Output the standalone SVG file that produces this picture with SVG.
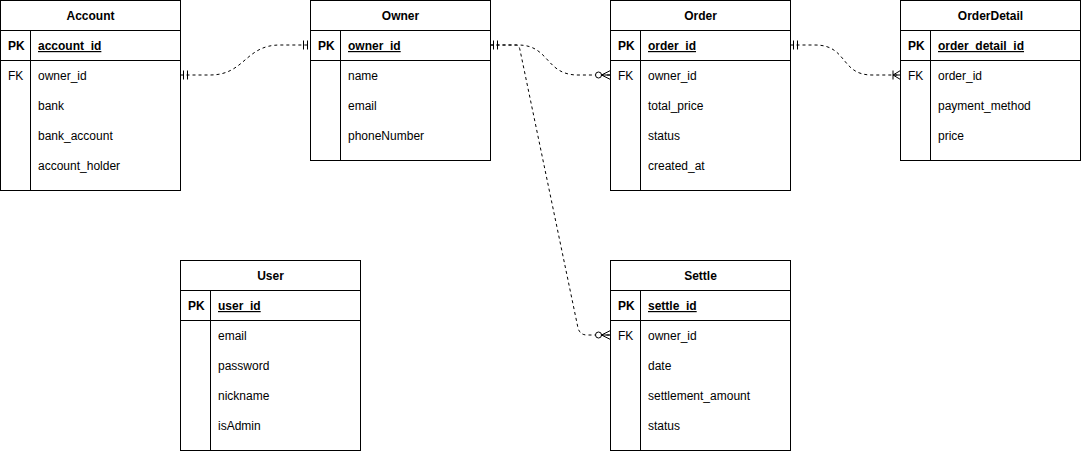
<svg xmlns="http://www.w3.org/2000/svg" width="1081" height="451" viewBox="0 0 1081 451">
<style>
  .box { fill: #ffffff; stroke: #000000; stroke-width: 1; }
  .ln { stroke: #000000; stroke-width: 1; fill: none; }
  text { font-family: "Liberation Sans", Arial, Helvetica, sans-serif; font-size: 12px; fill: #000000; }
  .title { font-weight: bold; text-anchor: middle; }
  .key { font-weight: bold; }
  .pk { font-weight: bold; text-decoration: underline; }
  .edge { stroke: #000000; stroke-width: 1; fill: none; stroke-dasharray: 3 3; }
  .mk { stroke: #000000; stroke-width: 1; fill: none; }
</style>
<defs>
  <marker id="mandOne" viewBox="-16 -6 17 12" refX="0" refY="0" markerWidth="17" markerHeight="12" markerUnits="userSpaceOnUse" orient="auto-start-reverse">
    <path class="mk" d="M-7,-4.5 L-7,4.5 M-3,-4.5 L-3,4.5"/>
  </marker>
  <marker id="zeroMany" viewBox="-16 -6 17 12" refX="0" refY="0" markerWidth="17" markerHeight="12" markerUnits="userSpaceOnUse" orient="auto-start-reverse">
    <circle cx="-12" cy="0" r="3" fill="#ffffff" stroke="#000000" stroke-width="1"/>
    <path class="mk" d="M0,-4.5 L-9,0 L0,4.5 M-9,0 L0,0"/>
  </marker>
  <marker id="oneMany" viewBox="-16 -6 17 12" refX="0" refY="0" markerWidth="17" markerHeight="12" markerUnits="userSpaceOnUse" orient="auto-start-reverse">
    <path class="mk" d="M-7.5,-4.5 L-7.5,4.5 M0,-4.5 L-7.5,0 L0,4.5 M-7.5,0 L0,0"/>
  </marker>
</defs>

<g id="connectors">
  <path class="edge" d="M180.5,75 L210,75 C245,75 245,45 280,45 L310.5,45" marker-start="url(#mandOne)" marker-end="url(#mandOne)"/>
  <path class="edge" d="M490.5,45 L518,45 C550,45 545,75 578,75 L610.5,75" marker-start="url(#mandOne)" marker-end="url(#zeroMany)"/>
  <path class="edge" d="M790.5,45 L815,45 C848,45 840,75 872,75 L900.5,75" marker-start="url(#mandOne)" marker-end="url(#oneMany)"/>
  <path class="edge" d="M490.5,45 L516,45 Q519,45 520,50 L578,328 Q580,335 587,335 L610.5,335" marker-end="url(#zeroMany)"/>
</g>

<g id="Account">
  <rect class="box" x="0.5" y="0.5" width="180" height="190"/>
  <path class="ln" d="M0.5,30.5 H180.5 M0.5,60.5 H180.5 M30.5,30.5 V190.5"/>
  <text class="title" x="90.5" y="20">Account</text>
  <text class="key" x="8" y="50">PK</text>
  <text class="pk" x="38" y="50">account_id</text>
  <text x="8" y="80">FK</text>
  <text x="38" y="80">owner_id</text>
  <text x="38" y="110">bank</text>
  <text x="38" y="140">bank_account</text>
  <text x="38" y="170">account_holder</text>
</g>

<g id="Owner">
  <rect class="box" x="310.5" y="0.5" width="180" height="160"/>
  <path class="ln" d="M310.5,30.5 H490.5 M310.5,60.5 H490.5 M340.5,30.5 V160.5"/>
  <text class="title" x="400.5" y="20">Owner</text>
  <text class="key" x="318" y="50">PK</text>
  <text class="pk" x="348" y="50">owner_id</text>
  <text x="348" y="80">name</text>
  <text x="348" y="110">email</text>
  <text x="348" y="140">phoneNumber</text>
</g>

<g id="Order">
  <rect class="box" x="610.5" y="0.5" width="180" height="190"/>
  <path class="ln" d="M610.5,30.5 H790.5 M610.5,60.5 H790.5 M640.5,30.5 V190.5"/>
  <text class="title" x="700.5" y="20">Order</text>
  <text class="key" x="618" y="50">PK</text>
  <text class="pk" x="648" y="50">order_id</text>
  <text x="618" y="80">FK</text>
  <text x="648" y="80">owner_id</text>
  <text x="648" y="110">total_price</text>
  <text x="648" y="140">status</text>
  <text x="648" y="170">created_at</text>
</g>

<g id="OrderDetail">
  <rect class="box" x="900.5" y="0.5" width="180" height="160"/>
  <path class="ln" d="M900.5,30.5 H1080.5 M900.5,60.5 H1080.5 M930.5,30.5 V160.5"/>
  <text class="title" x="990.5" y="20">OrderDetail</text>
  <text class="key" x="908" y="50">PK</text>
  <text class="pk" x="938" y="50">order_detail_id</text>
  <text x="908" y="80">FK</text>
  <text x="938" y="80">order_id</text>
  <text x="938" y="110">payment_method</text>
  <text x="938" y="140">price</text>
</g>

<g id="User">
  <rect class="box" x="180.5" y="260.5" width="180" height="190"/>
  <path class="ln" d="M180.5,290.5 H360.5 M180.5,320.5 H360.5 M210.5,290.5 V450.5"/>
  <text class="title" x="270.5" y="280">User</text>
  <text class="key" x="188" y="310">PK</text>
  <text class="pk" x="218" y="310">user_id</text>
  <text x="218" y="340">email</text>
  <text x="218" y="370">password</text>
  <text x="218" y="400">nickname</text>
  <text x="218" y="430">isAdmin</text>
</g>

<g id="Settle">
  <rect class="box" x="610.5" y="260.5" width="180" height="190"/>
  <path class="ln" d="M610.5,290.5 H790.5 M610.5,320.5 H790.5 M640.5,290.5 V450.5"/>
  <text class="title" x="700.5" y="280">Settle</text>
  <text class="key" x="618" y="310">PK</text>
  <text class="pk" x="648" y="310">settle_id</text>
  <text x="618" y="340">FK</text>
  <text x="648" y="340">owner_id</text>
  <text x="648" y="370">date</text>
  <text x="648" y="400">settlement_amount</text>
  <text x="648" y="430">status</text>
</g>
</svg>
